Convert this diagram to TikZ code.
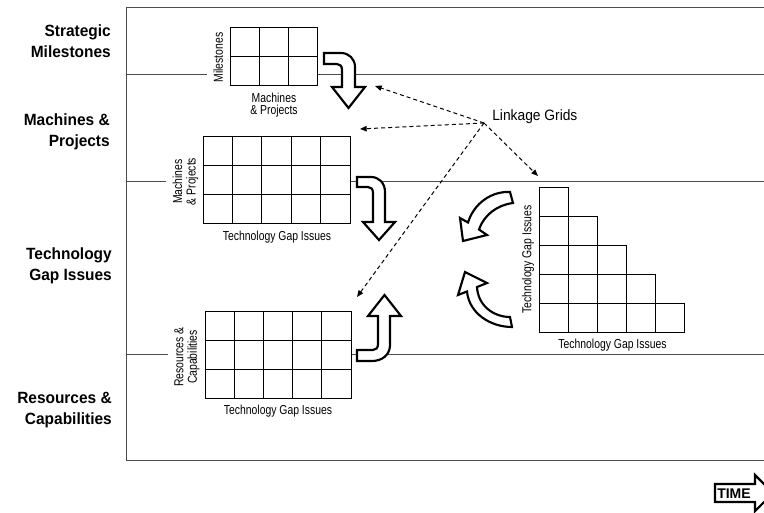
\documentclass[tikz,border=0pt]{standalone}
\usepackage{fontspec}
\setmainfont{Liberation Sans}
\newfontfamily\lblfont{Liberation Sans}[FakeStretch=0.95]
\newfontfamily\smallfont{Liberation Sans}[FakeStretch=0.8]
\newfontfamily\linkfont{Liberation Sans}[FakeStretch=0.92]
\usetikzlibrary{arrows.meta}
\begin{document}
\begin{tikzpicture}[x=0.75pt,y=-0.75pt,
  frame/.style={draw=black!70,line width=0.75pt},
  sep/.style={draw=black!70,line width=0.75pt},
  cell/.style={draw=black,line width=0.75pt},
  bigarrow/.style={draw=black,line width=1.6pt,fill=white,line join=miter,miter limit=6},
  rowlabel/.style={anchor=east,align=right,inner sep=0pt,font=\lblfont\bfseries\fontsize{12.2}{15.75}\selectfont},
  small/.style={inner sep=0pt,align=center,font=\smallfont\fontsize{9.75}{9.4}\selectfont},
  rsmall/.style={inner sep=0pt,align=center,rotate=90,font=\smallfont\fontsize{9.75}{10.2}\selectfont},
  linkarrow/.style={draw=black,line width=0.75pt,dash pattern=on 3pt off 2.3pt,-{Triangle[length=5pt,width=4pt]}},
  timelbl/.style={inner sep=0pt,font=\bfseries\fontsize{10.5}{12}\selectfont}
]
\useasboundingbox (0,0) rectangle (764,513);
\clip (0,0) rectangle (764,513);

% frame
\draw[frame] (764,8) -- (126,8) -- (126,460) -- (764,460);

% separators
\draw[sep] (126,75) -- (207,75);
\draw[sep] (317,75) -- (764,75);
\draw[sep] (126,182) -- (166,182);
\draw[sep] (350,182) -- (764,182);
\draw[sep] (126,354) -- (168,354);
\draw[sep] (351,354) -- (764,354);

% row labels
\node[rowlabel] (lblSM) at (111,41) {Strategic\\Milestones};
\node[rowlabel] (lblMP) at (110,131.5) {Machines \&\\Projects};
\node[rowlabel] (lblTG) at (112,265.5) {Technology\\Gap Issues};
\node[rowlabel] (lblRC) at (112,410.5) {Resources \&\\Capabilities};

% grid 1
\foreach \i in {0,1,2} \foreach \j in {0,1}
  \draw[cell] ({230+29*\i},{28+29*\j}) rectangle ++(29,29);
\node[rsmall] (g1side) at (218.3,57.5) {Milestones};
\node[small] (g1below) at (274,105) {Machines\\\& Projects};

% grid 2
\foreach \i in {0,...,4} \foreach \j in {0,1,2}
  \draw[cell] ({203+29.4*\i},{137+29*\j}) rectangle ++(29.4,29);
\node[rsmall] (g2side) at (185.5,181.5) {Machines\\\& Projects};
\node[small] (g2below) at (277,237.5) {Technology Gap Issues};

% grid 3
\foreach \i in {0,...,4} \foreach \j in {0,1,2}
  \draw[cell] ({205+29.2*\i},{312+28.7*\j}) rectangle ++(29.2,28.7);
\node[rsmall] (g3side) at (187,357) {Resources \&\\Capabilities};
\node[small] (g3below) at (278,411) {Technology Gap Issues};

% triangular grid
\foreach \r in {0,...,4} \foreach \c in {0,...,\r}
  \draw[cell] ({539+29*\c},{188+29*\r}) rectangle ++(29,29);
\node[rsmall] (g4side) at (528,259.6) {Technology Gap Issues};
\node[small] (g4below) at (612.5,345) {Technology Gap Issues};

% U-arrows
\draw[bigarrow] (324,53) -- (341,53) .. controls (349,53) and (355,59) .. (355,67)
  -- (355,87) -- (365,87) -- (348.5,108) -- (332,87) -- (342,87) -- (342,70)
  .. controls (342,66) and (340,64) .. (337,64) -- (324,64) -- cycle;
\draw[bigarrow] (357,177) -- (371,177) .. controls (379,177) and (385,183) .. (385,192)
  -- (385,222) -- (395,222) -- (379,240) -- (363,222) -- (373,222) -- (373,193)
  .. controls (373,189) and (371,187) .. (368,187) -- (357,187) -- cycle;
\draw[bigarrow] (357,361) -- (372,361) .. controls (382,361) and (390,355) .. (390,345)
  -- (390,316) -- (401,316) -- (384.5,295) -- (368,316) -- (378,316) -- (378,344)
  .. controls (378,348) and (376,350) .. (373,350) -- (357,350) -- cycle;

% curved arrows
\draw[bigarrow] (510,192) .. controls (492,191) and (474,203) .. (468,222.5)
  -- (460,218) -- (463,241) -- (487,235) -- (479,229.5)
  .. controls (484,215) and (497,205) .. (513,203) -- cycle;
\draw[bigarrow] (510,317) .. controls (494,317) and (478,306) .. (477,287)
  -- (487,283) -- (465,272) -- (458,295) -- (467,291.5)
  .. controls (469,313) and (490,327) .. (512,327) -- cycle;

% linkage
\node[anchor=west,inner sep=0pt,font=\linkfont\fontsize{11.25}{13}\selectfont] (linklbl) at (492,117) {Linkage Grids};
\coordinate (hub) at (484,123);
\coordinate (t1) at (375,86);
\coordinate (t2) at (360,129);
\coordinate (t3) at (538,176);
\coordinate (t4) at (357,297);
\draw[linkarrow] (hub) -- (t1);
\draw[linkarrow] (hub) -- (t2);
\draw[linkarrow] (hub) -- (t3);
\draw[linkarrow] (hub) -- (t4);

% time arrow
\draw[bigarrow] (715,484) -- (755,484) -- (755,475) -- (773,493) -- (755,511) -- (755,502) -- (715,502) -- cycle;
\node[timelbl] (time) at (734,494) {TIME};
\end{tikzpicture}
\end{document}
